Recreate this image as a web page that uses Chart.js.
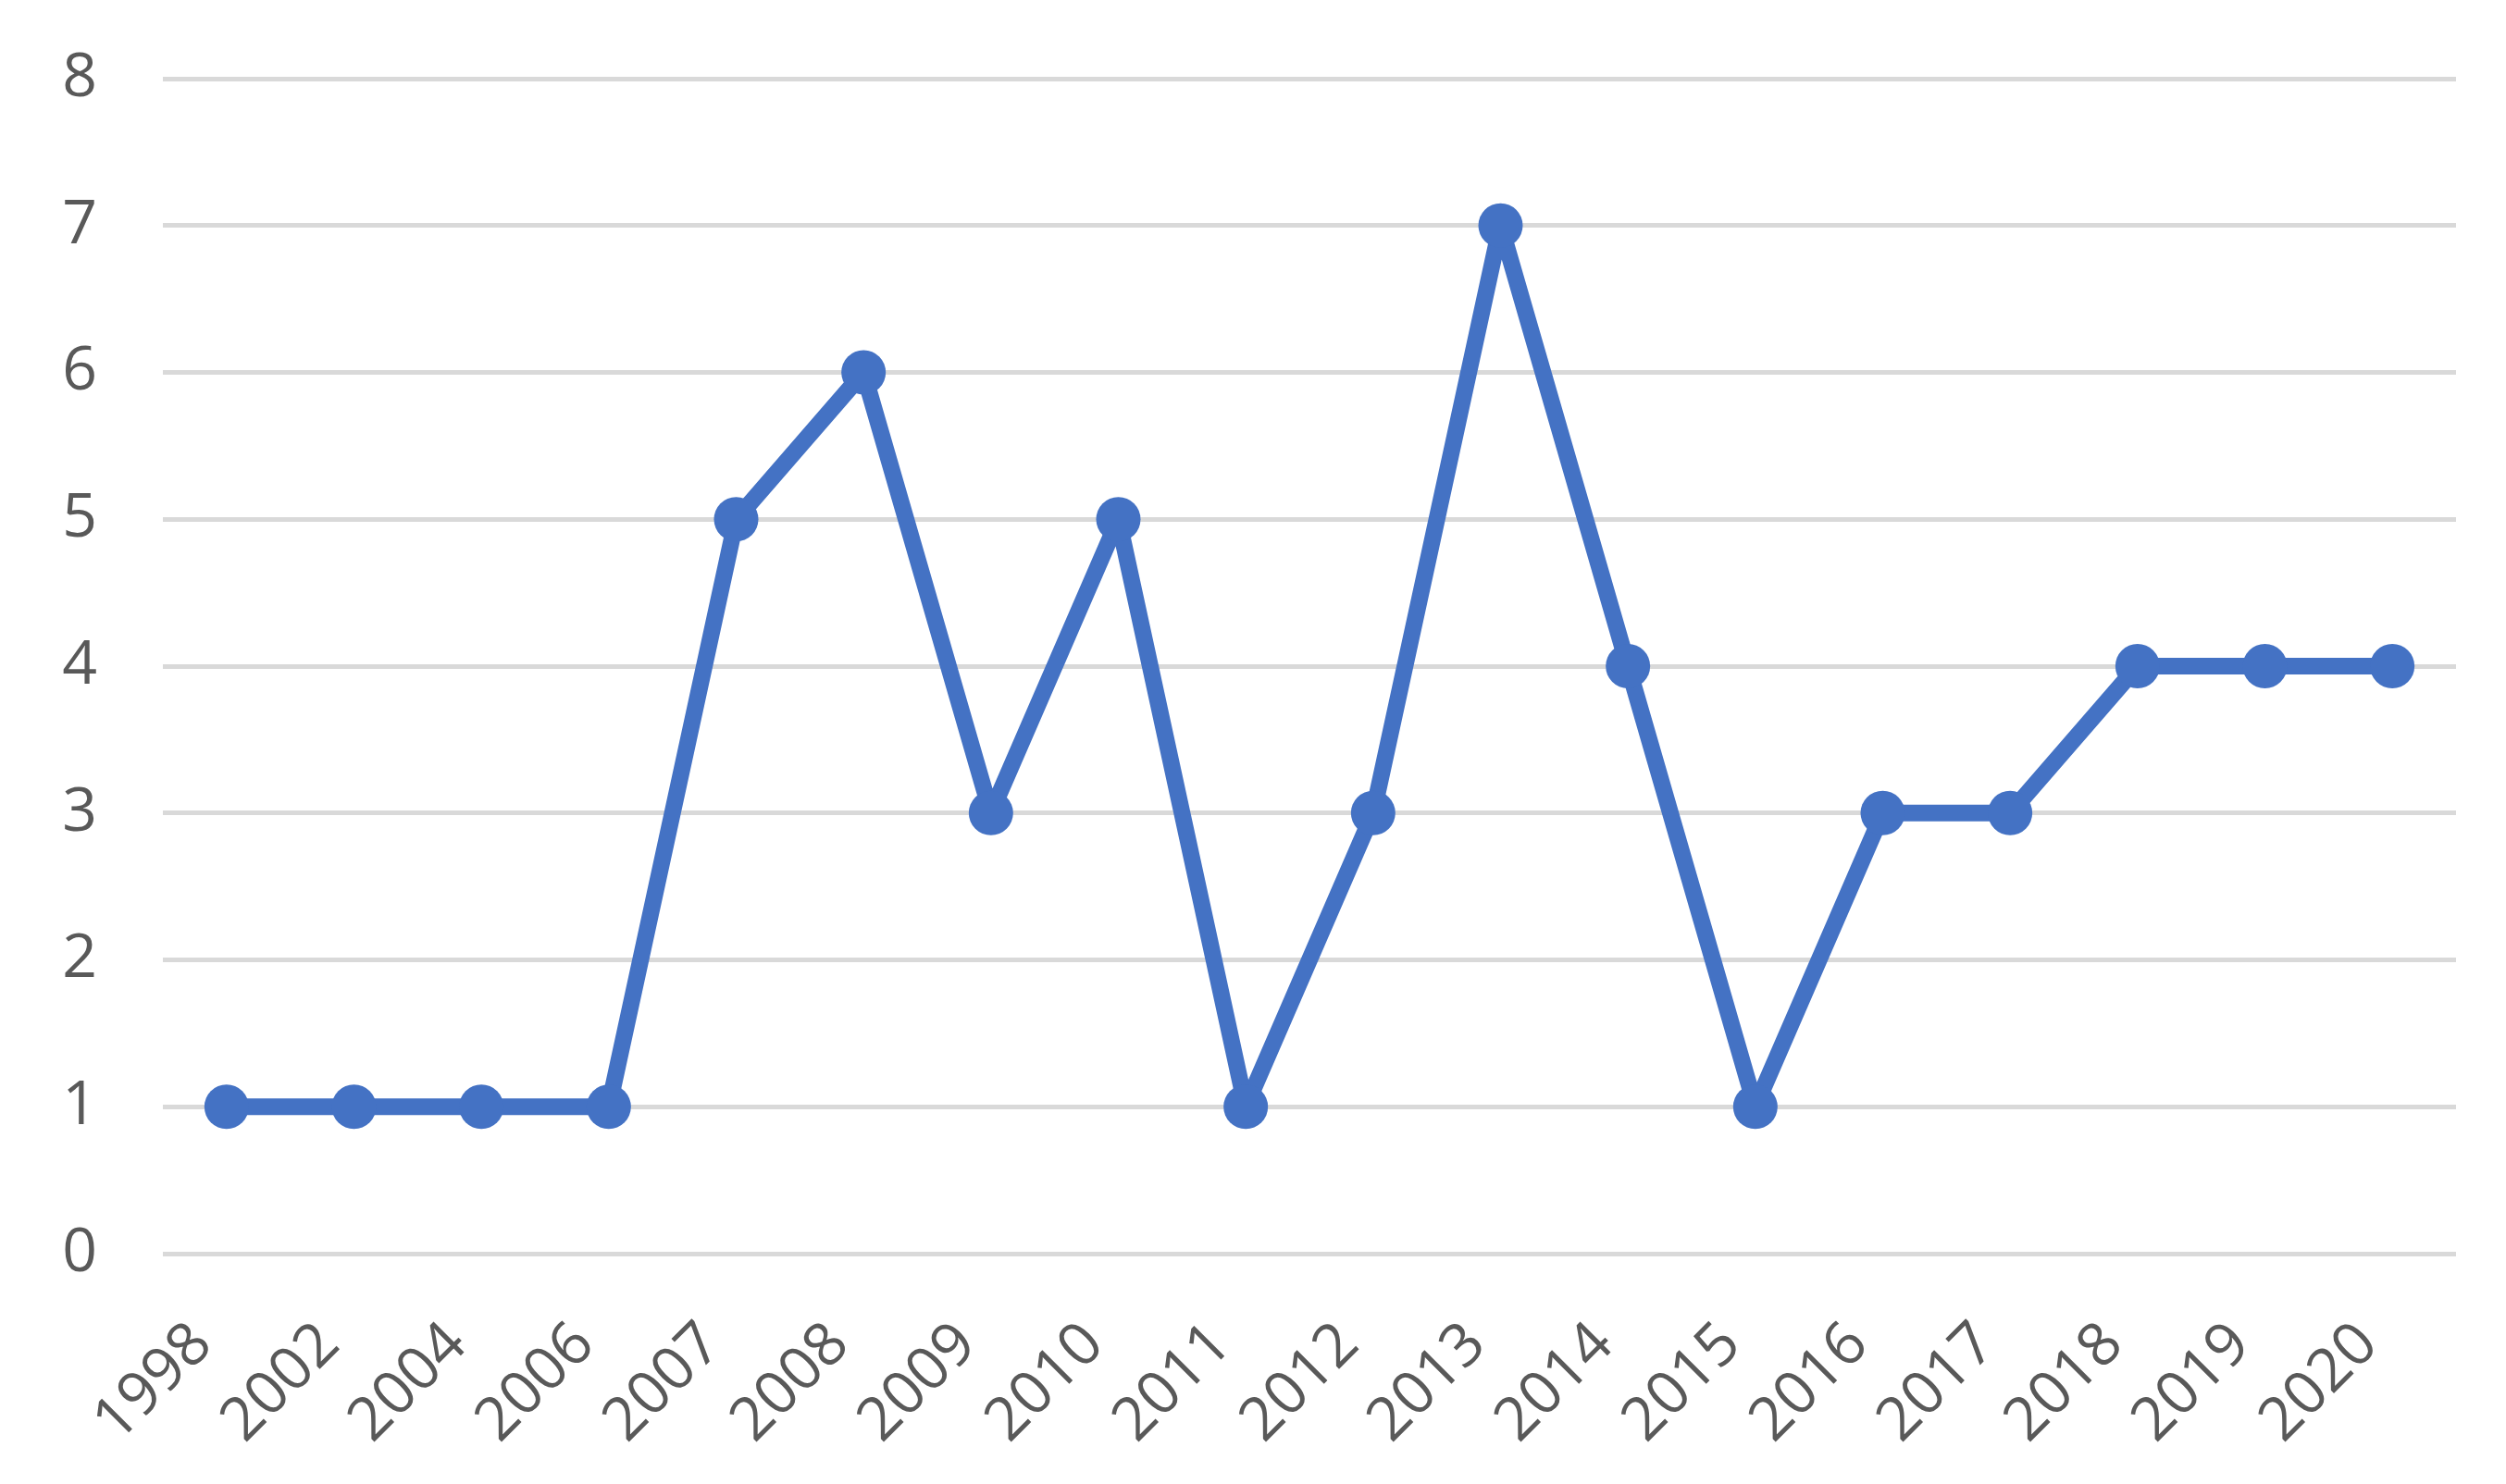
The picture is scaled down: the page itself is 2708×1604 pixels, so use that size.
<!DOCTYPE html>
<html>
<head>
<meta charset="utf-8">
<script src="https://cdn.jsdelivr.net/npm/chart.js@4"></script>
<style>
  html, body { margin: 0; padding: 0; background: #ffffff; }
  #chart { display: block; }
</style>
</head>
<body>
<canvas id="chart" width="2708" height="1604"></canvas>
<script>
// years shown on the x axis
const years = [
    "1998", "2002", "2004", "2006", "2007", "2008", "2009", "2010", "2011",
    "2012", "2013", "2014", "2015", "2016", "2017", "2018", "2019", "2020"
];
// count per year
const counts = [1, 1, 1, 1, 5, 6, 3, 5, 1, 3, 7, 4, 1, 3, 3, 4, 4, 4];
const yMin = 0;
const yMax = 8;

const blue = "#4472C4";
const textGrey = "#595959";
const gridGrey = "#d9d9d9";
const fontFamily = "'Open Sans', 'Noto Sans', sans-serif";

document.addEventListener('DOMContentLoaded', function () {
    new Chart("chart", {
        type: "line",
        data: {
            labels: years,
            datasets: [
                {
                    data: counts,
                    borderColor: blue,
                    backgroundColor: blue,
                    borderWidth: 18,
                    borderJoinStyle: "round",
                    borderCapStyle: "round",
                    pointRadius: 24,
                    pointHoverRadius: 24,
                    pointBorderWidth: 0,
                    pointBackgroundColor: blue,
                    tension: 0,
                },
            ],
        },
        options: {
            responsive: false,
            animation: false,
            devicePixelRatio: 1,
            layout: { padding: { left: 0, right: 54, top: 85, bottom: 0 } },
            plugins: {
                legend: { display: false },
                tooltip: { enabled: false },
            },
            scales: {
                x: {
                    offset: true,
                    grid: { display: false, drawTicks: false },
                    border: { display: false },
                    afterFit: function (scale) { scale.height = 249; },
                    ticks: {
                        color: textGrey,
                        font: { family: fontFamily, size: 65 },
                        minRotation: 45,
                        maxRotation: 45,
                        padding: 60,
                        labelOffset: -26,
                        autoSkip: false,
                    },
                },
                y: {
                    min: yMin,
                    max: yMax,
                    grid: { color: gridGrey, lineWidth: 5, drawTicks: false },
                    border: { display: false },
                    afterFit: function (scale) {
                        scale.width = 176;
                        scale.paddingTop = 0;
                        scale.paddingBottom = 0;
                    },
                    ticks: {
                        stepSize: 1,
                        color: textGrey,
                        font: { family: fontFamily, size: 66 },
                        padding: 71,
                    },
                },
            },
        },
    });
});
</script>
</body>
</html>
